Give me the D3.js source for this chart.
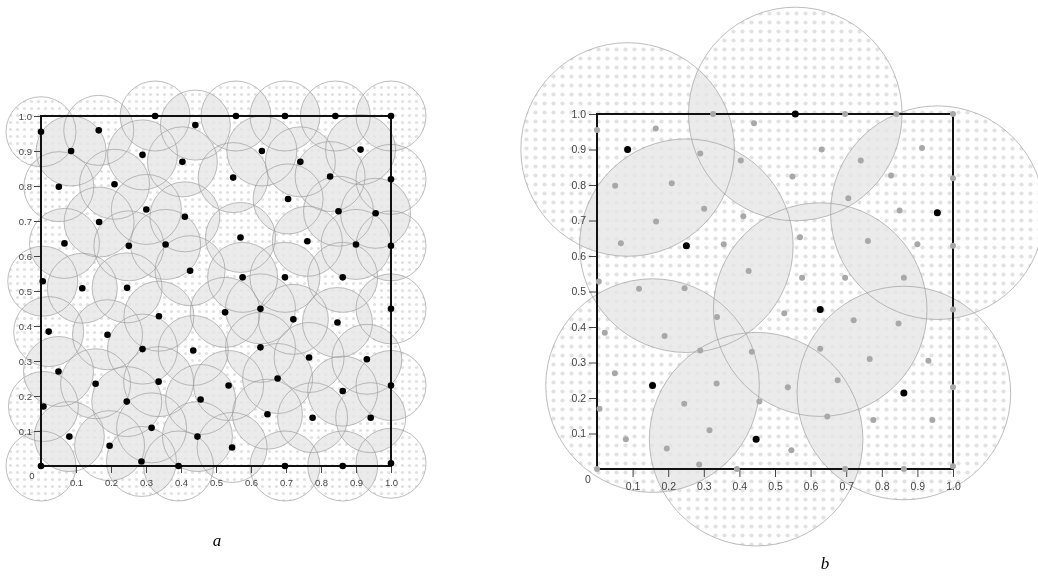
<!DOCTYPE html>
<html>
<head>
<meta charset="utf-8">
<script src="https://cdn.jsdelivr.net/npm/d3@7/dist/d3.min.js"></script>
<style>
body { margin: 0; background: #fff; }
</style>
</head>
<body>
<div id="chart"></div>
<script>
// sample points (same set in both panels)
var pointX = [0.00, 0.165, 0.326, 0.441, 0.086, 0.29, 0.404, 0.051, 0.21, 0.301, 0.411, 0.166, 0.067, 0.251, 0.356, 0.426,
  0.005, 0.557, 0.697, 0.841, 1.0, 0.631, 0.913, 0.741, 0.549, 0.826, 1.0, 0.706, 0.85, 0.956, 0.57, 0.761, 0.90, 1.0,
  0.576, 0.697, 0.862, 0.118, 0.246, 0.337, 0.022, 0.19, 0.29, 0.435, 0.05, 0.156, 0.336, 0.245, 0.456, 0.007, 0.316,
  0.081, 0.447, 0.196, 0.287, 0.393, 0.0, 0.526, 0.627, 0.721, 0.847, 1.0, 0.627, 0.766, 0.931, 0.676, 0.536, 0.862,
  1.0, 0.647, 0.776, 0.942, 0.546, 0.697, 0.862, 1.0];
var pointY = [0.955, 0.959, 1.0, 0.974, 0.90, 0.889, 0.869, 0.798, 0.805, 0.733, 0.712, 0.697, 0.636, 0.629, 0.633, 0.558,
  0.528, 1.0, 1.0, 1.0, 1.0, 0.90, 0.904, 0.869, 0.824, 0.827, 0.819, 0.763, 0.728, 0.722, 0.653, 0.642, 0.633, 0.629,
  0.539, 0.539, 0.539, 0.508, 0.509, 0.428, 0.384, 0.375, 0.334, 0.33, 0.27, 0.235, 0.241, 0.184, 0.19, 0.17, 0.109,
  0.084, 0.084, 0.058, 0.013, 0.0, 0.0, 0.439, 0.449, 0.419, 0.41, 0.449, 0.339, 0.31, 0.305, 0.25, 0.23, 0.214,
  0.23, 0.148, 0.138, 0.138, 0.053, 0.0, 0.0, 0.008];
// panel b: chosen centres
var centerX = [0.086, 0.251, 0.557, 0.956, 0.627, 0.156, 0.862, 0.447];
var centerY = [0.90, 0.629, 1.0, 0.722, 0.449, 0.235, 0.214, 0.084];
var tickValues = [0.1, 0.2, 0.3, 0.4, 0.5, 0.6, 0.7, 0.8, 0.9, 1.0];
var radiusA = 0.1;
var radiusB = 0.3;

var svg = d3.select("#chart").append("svg")
  .attr("width", 1038)
  .attr("height", 576);
var defs = svg.append("defs");

function addPattern(id, step, r) {
  var p = defs.append("pattern").attr("id", id)
    .attr("patternUnits", "userSpaceOnUse")
    .attr("width", step).attr("height", step);
  p.append("rect").attr("width", step).attr("height", step).attr("fill", "#fff");
  p.append("circle").attr("cx", step / 2).attr("cy", step / 2).attr("r", r).attr("fill", "#e2e2e2");
}
addPattern("dotsA", 7, 1.6);
addPattern("dotsB", 9, 2.1);

function drawPanel(opt) {
  var x = d3.scaleLinear().domain([0, 1]).range(opt.xr);
  var y = d3.scaleLinear().domain([0, 1]).range(opt.yr);
  var rpx = x(opt.radius) - x(0);
  var circles = opt.cx.map(function (d, i) { return { x: d, y: opt.cy[i] }; });
  var g = svg.append("g");

  // clip paths, one per circle
  circles.forEach(function (c, i) {
    defs.append("clipPath").attr("id", opt.id + "clip" + i)
      .append("circle").attr("cx", x(c.x)).attr("cy", y(c.y)).attr("r", rpx);
  });

  // single coverage: dot pattern
  g.append("g").selectAll("circle").data(circles).enter().append("circle")
    .attr("cx", function (d) { return x(d.x); })
    .attr("cy", function (d) { return y(d.y); })
    .attr("r", rpx)
    .attr("fill", "url(#" + opt.pattern + ")");

  // overlaps: flat grey
  var pairs = [];
  for (var i = 0; i < circles.length; i++) {
    for (var j = i + 1; j < circles.length; j++) {
      var dx = circles[i].x - circles[j].x, dy = circles[i].y - circles[j].y;
      if (Math.sqrt(dx * dx + dy * dy) < 2 * opt.radius) pairs.push({ a: i, b: j });
    }
  }
  g.append("g").attr("opacity", 0.8).selectAll("circle").data(pairs).enter().append("circle")
    .attr("cx", function (d) { return x(circles[d.b].x); })
    .attr("cy", function (d) { return y(circles[d.b].y); })
    .attr("r", rpx)
    .attr("clip-path", function (d) { return "url(#" + opt.id + "clip" + d.a + ")"; })
    .attr("fill", "#e6e6e6");

  // outlines
  g.append("g").selectAll("circle").data(circles).enter().append("circle")
    .attr("cx", function (d) { return x(d.x); })
    .attr("cy", function (d) { return y(d.y); })
    .attr("r", rpx)
    .attr("fill", "none")
    .attr("stroke", "#999")
    .attr("stroke-opacity", 0.65)
    .attr("stroke-width", 1);

  // axes
  var xAxis = g.append("g").attr("transform", "translate(0," + y(0) + ")")
    .call(d3.axisBottom(x).tickValues(tickValues).tickSize(opt.tick).tickPadding(opt.padX).tickFormat(d3.format(".1f")));
  var yAxis = g.append("g").attr("transform", "translate(" + x(0) + ",0)")
    .call(d3.axisLeft(y).tickValues(tickValues).tickSize(opt.tick).tickPadding(opt.padY).tickFormat(d3.format(".1f")));
  [xAxis, yAxis].forEach(function (a) {
    a.select(".domain").remove();
    a.selectAll("line").attr("stroke", "#444");
    a.selectAll("text").attr("fill", "#444")
      .style("font-family", "'Liberation Sans', Arial, sans-serif")
      .style("font-size", opt.font + "px");
  });
  g.append("text").attr("x", x(0) - 9).attr("y", y(0) + opt.font + 3)
    .attr("text-anchor", "middle")
    .attr("fill", "#444")
    .style("font-family", "'Liberation Sans', Arial, sans-serif")
    .style("font-size", opt.font + "px")
    .text("0");

  // square frame
  g.append("rect")
    .attr("x", x(0)).attr("y", y(1))
    .attr("width", x(1) - x(0)).attr("height", y(0) - y(1))
    .attr("fill", "none").attr("stroke", "#111").attr("stroke-width", 2);

  // points
  if (opt.grey) {
    g.append("g").selectAll("circle").data(pointX).enter().append("circle")
      .attr("cx", function (d) { return x(d); })
      .attr("cy", function (d, i) { return y(pointY[i]); })
      .attr("r", 3)
      .attr("fill", "#a8a8a8");
  }
  g.append("g").selectAll("circle").data(circles).enter().append("circle")
    .attr("cx", function (d) { return x(d.x); })
    .attr("cy", function (d) { return y(d.y); })
    .attr("r", opt.dot)
    .attr("fill", "#000");

  svg.append("text")
    .attr("x", opt.label[0]).attr("y", opt.label[1])
    .attr("text-anchor", "middle")
    .style("font-family", "'Liberation Serif', 'Times New Roman', serif")
    .style("font-style", "italic")
    .style("font-size", "17px")
    .text(opt.name);
}

drawPanel({ id: "a", xr: [41, 391], yr: [466, 116], radius: radiusA, cx: pointX, cy: pointY,
  pattern: "dotsA", tick: 7, padX: 6, padY: 2, font: 9.5, dot: 3.3, grey: false, label: [217, 546], name: "a" });
drawPanel({ id: "b", xr: [597, 953], yr: [469, 114], radius: radiusB, cx: centerX, cy: centerY,
  pattern: "dotsB", tick: 8, padX: 6, padY: 3, font: 10.5, dot: 3.5, grey: true, label: [825, 569], name: "b" });
</script>
</body>
</html>
